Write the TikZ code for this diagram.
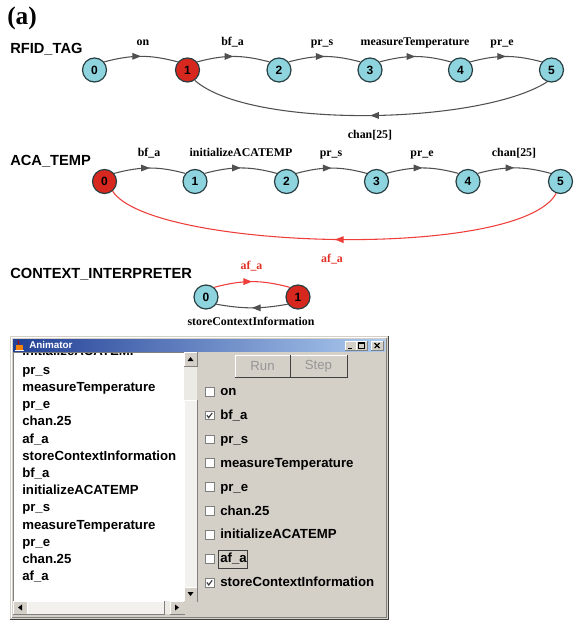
\documentclass[tikz,border=0pt]{standalone}
\usepackage{fontspec}
\setmainfont{Liberation Serif}
\setsansfont{Liberation Sans}
\usetikzlibrary{arrows.meta,decorations.markings}

\definecolor{statecyan}{RGB}{142,212,222}
\definecolor{statered}{RGB}{214,40,30}
\definecolor{stateedge}{RGB}{40,62,66}
\definecolor{edgegray}{RGB}{80,80,80}
\definecolor{edgered}{RGB}{238,62,58}
\definecolor{labelred}{RGB}{226,50,40}
\definecolor{winface}{RGB}{212,208,200}
\definecolor{winlight}{RGB}{236,234,228}
\definecolor{thumbface}{RGB}{242,241,237}
\definecolor{winshadow}{RGB}{128,128,128}
\definecolor{windark}{RGB}{64,64,64}
\definecolor{titleL}{RGB}{34,64,150}
\definecolor{titleR}{RGB}{172,202,238}
\definecolor{disabledtext}{RGB}{150,150,150}

% raised 3D box: top-left corner (#2,#3), bottom-right corner (#4,#5), face colour #1
\newcommand{\winbtn}[5][winface]{%
  \fill[#1] (#2,#3) rectangle (#4,#5);
  \draw[white, line width=0.7pt] (#2,#5) -- (#2,#3) -- (#4,#3);
  \draw[winshadow, line width=0.7pt] (#2,#5) -- (#4,#5) -- (#4,#3);}

\tikzset{
  state/.style={circle, draw=stateedge, line width=0.9pt, minimum size=18pt,
    inner sep=0pt, font=\sffamily\bfseries\fontsize{9}{9}\selectfont},
  idle/.style={state, fill=statecyan},
  active/.style={state, fill=statered},
  trans/.style={draw=#1, line width=0.8pt, postaction={decorate},
    decoration={markings, mark=at position 0.5 with
      {\arrow[#1]{Triangle[length=6.5pt,width=5pt]}}}},
  trans/.default=edgegray,
  fwd/.style={out=15, in=165},
  lbl/.style={font=\rmfamily\bfseries\fontsize{8.9}{10}\selectfont,
    inner sep=0pt, anchor=base},
  sect/.style={font=\sffamily\bfseries\fontsize{11}{13}\selectfont,
    inner sep=0pt, anchor=base west},
  item/.style={font=\sffamily\bfseries\fontsize{9.9}{12}\selectfont,
    inner sep=0pt, anchor=base west},
  chk/.style={draw=winshadow, fill=white, line width=0.6pt,
    minimum size=6.6pt, inner sep=0pt},
}

\begin{document}
\begin{tikzpicture}[x=0.75pt, y=0.75pt]
\useasboundingbox (0,0) rectangle (575,-621);

% ---------- panel letter and machine titles ----------
\node[font=\rmfamily\bfseries\fontsize{19}{22}\selectfont, anchor=base west,
  inner sep=0pt] (panel) at (7,-24) {(a)};
\node[sect] (rfid) at (10,-53) {RFID\_TAG};
\node[sect] (aca) at (10,-165) {ACA\_TEMP};
\node[sect] (ctx) at (10,-278) {CONTEXT\_INTERPRETER};

% ---------- RFID_TAG ----------
\node[idle]   (r0) at (94.5,-70) {0};
\node[active] (r1) at (187.5,-70) {1};
\node[idle]   (r2) at (279,-70) {2};
\node[idle]   (r3) at (370,-70) {3};
\node[idle]   (r4) at (460.5,-70) {4};
\node[idle]   (r5) at (551.5,-70) {5};

\draw[trans] (r0.40) to[fwd] (r1.140);
\draw[trans] (r1.40) to[fwd] (r2.140);
\draw[trans] (r2.40) to[fwd] (r3.140);
\draw[trans] (r3.40) to[fwd] (r4.140);
\draw[trans] (r4.40) to[fwd] (r5.140);
\draw[trans] (r5.-110) .. controls +(-67,-43) and +(55,-49) .. (r1.-55);

\node[lbl] (rl0) at (143,-45) {on};
\node[lbl] (rl1) at (232.5,-45) {bf\_a};
\node[lbl] (rl2) at (322,-45) {pr\_s};
\node[lbl] (rl3) at (415,-45) {measureTemperature};
\node[lbl] (rl4) at (502,-45) {pr\_e};
\node[lbl] (rl5) at (370,-138) {chan[25]};

% ---------- ACA_TEMP ----------
\node[active] (a0) at (104.5,-181.5) {0};
\node[idle]   (a1) at (195,-181.5) {1};
\node[idle]   (a2) at (286.5,-181.5) {2};
\node[idle]   (a3) at (376.5,-181.5) {3};
\node[idle]   (a4) at (468,-181.5) {4};
\node[idle]   (a5) at (560.5,-181.5) {5};

\draw[trans] (a0.40) to[fwd] (a1.140);
\draw[trans] (a1.40) to[fwd] (a2.140);
\draw[trans] (a2.40) to[fwd] (a3.140);
\draw[trans] (a3.40) to[fwd] (a4.140);
\draw[trans] (a4.40) to[fwd] (a5.140);
\draw[trans=edgered] (a5.-110) .. controls +(-36,-67) and +(38,-59) .. (a0.-50);

\node[lbl] (al0) at (149,-156.5) {bf\_a};
\node[lbl] (al1) at (241,-156.5) {initializeACATEMP};
\node[lbl] (al2) at (331,-156.5) {pr\_s};
\node[lbl] (al3) at (422,-156.5) {pr\_e};
\node[lbl] (al4) at (514,-156.5) {chan[25]};
\node[lbl, text=labelred] (al5) at (332,-262) {af\_a};

% ---------- CONTEXT_INTERPRETER ----------
\node[idle]   (c0) at (206,-297) {0};
\node[active] (c1) at (298,-297) {1};
\draw[trans=edgered] (c0.50) to[out=15, in=165] (c1.130);
\draw[trans] (c1.-145) to[out=-170, in=-10] (c0.-35);
\node[lbl, text=labelred] (cl0) at (251.5,-269) {af\_a};
\node[lbl] (cl1) at (251,-325) {storeContextInformation};

% ---------- Animator window ----------
% frame
\fill[winface] (10,-336) rectangle (388,-619);
\draw[white, line width=0.7pt] (11,-618) -- (11,-337) -- (387,-337);
\draw[winshadow, line width=0.7pt] (11.5,-617.5) -- (386.5,-617.5) -- (386.5,-337.5);
\draw[windark, line width=0.7pt] (10,-619) -- (388,-619) -- (388,-336);

% title bar
\shade[left color=titleL, right color=titleR] (13,-339) rectangle (385,-351);
\fill[orange!85!brown] (16,-345) rectangle (23,-350);
\draw[white, line width=0.6pt] (15,-350.5) -- (24,-350.5);
\draw[red!70!black, line width=0.8pt] (18,-340.5) .. controls (20,-342) and (17,-343) .. (19,-344.5);
\node[font=\sffamily\bfseries\fontsize{7.4}{9}\selectfont, text=white,
  anchor=west, inner sep=0pt] (title) at (29,-345) {Animator};
\winbtn{345}{-341}{356}{-350}
\winbtn{356}{-341}{367}{-350}
\winbtn{371}{-341}{383}{-350}
\draw[black, line width=0.9pt] (347.5,-348.2) -- (351.5,-348.2);
\draw[black, line width=0.5pt] (358.5,-342.8) rectangle (364.5,-348.2);
\draw[black, line width=0.9pt] (358.5,-343.1) -- (364.5,-343.1);
\draw[black, line width=0.8pt] (374.5,-343) -- (379.5,-348) (379.5,-343) -- (374.5,-348);

% event list (scrolled to its end; the first row is cut by the top edge)
\fill[white] (13,-352) rectangle (184,-601);
\begin{scope}
  \clip (13,-353) rectangle (184,-601);
  \node[item, text height=2pt] (li0) at (22,-355) {initializeACATEMP};
  \foreach \t [count=\k from 1] in {pr\_s, measureTemperature,
      pr\_e, chan.25, af\_a, storeContextInformation, bf\_a, initializeACATEMP,
      pr\_s, measureTemperature, pr\_e, chan.25, af\_a}
    \node[item] (li\k) at (22,{-(357+17.2*\k)}) {\t};
\end{scope}
\draw[winshadow, line width=0.7pt] (13,-601) -- (13,-352) -- (197,-352);

% vertical scrollbar
\fill[winlight] (184,-352) rectangle (197,-601);
\winbtn{184}{-352}{197}{-366}
\winbtn[thumbface]{184}{-400}{197}{-587}
\winbtn{184}{-587}{197}{-601}
\fill[black] (190.5,-357) -- (187.5,-361) -- (193.5,-361) -- cycle;
\fill[black] (190.5,-596) -- (187.5,-592) -- (193.5,-592) -- cycle;

% horizontal scrollbar
\fill[winlight] (13,-601) rectangle (184,-614);
\winbtn{13}{-601}{27}{-614}
\winbtn[thumbface]{27}{-601}{164}{-614}
\winbtn{170}{-601}{184}{-614}
\fill[black] (18,-607.5) -- (22,-604.5) -- (22,-610.5) -- cycle;
\fill[black] (179,-607.5) -- (175,-604.5) -- (175,-610.5) -- cycle;
\fill[winface] (184,-601) rectangle (197,-614);

% Run / Step buttons
\winbtn{235}{-355}{290}{-377}
\winbtn{290}{-355}{347}{-377}
\draw[windark, line width=0.7pt] (235,-377.5) -- (290,-377.5) -- (290,-355);
\draw[windark, line width=0.7pt] (290,-377.5) -- (347.5,-377.5) -- (347.5,-355);
\node[font=\sffamily\fontsize{9.9}{12}\selectfont, text=disabledtext,
  inner sep=0pt] (run) at (262.5,-366) {Run};
\node[font=\sffamily\fontsize{9.9}{12}\selectfont, text=disabledtext,
  inner sep=0pt] (step) at (318.5,-366) {Step};

% event check boxes
\foreach \t [count=\k from 0] in {on, bf\_a, pr\_s, measureTemperature, pr\_e,
    chan.25, initializeACATEMP, af\_a, storeContextInformation} {
  \node[chk] (cb\k) at (209.5,{-(391.5+23.9*\k)}) {};
  \node[item] (cl\k) at (220,{-(395.5+23.9*\k)}) {\t};
}
\foreach \k in {1,8}
  \draw[windark, line width=0.9pt] ([shift={(-2.6,0.2)}]cb\k.center)
    -- ([shift={(-0.8,-2.2)}]cb\k.center) -- ([shift={(2.7,2.4)}]cb\k.center);
\draw[windark, line width=0.5pt] (218.5,-550.5) rectangle (247,-568.5);

\end{tikzpicture}
\end{document}
